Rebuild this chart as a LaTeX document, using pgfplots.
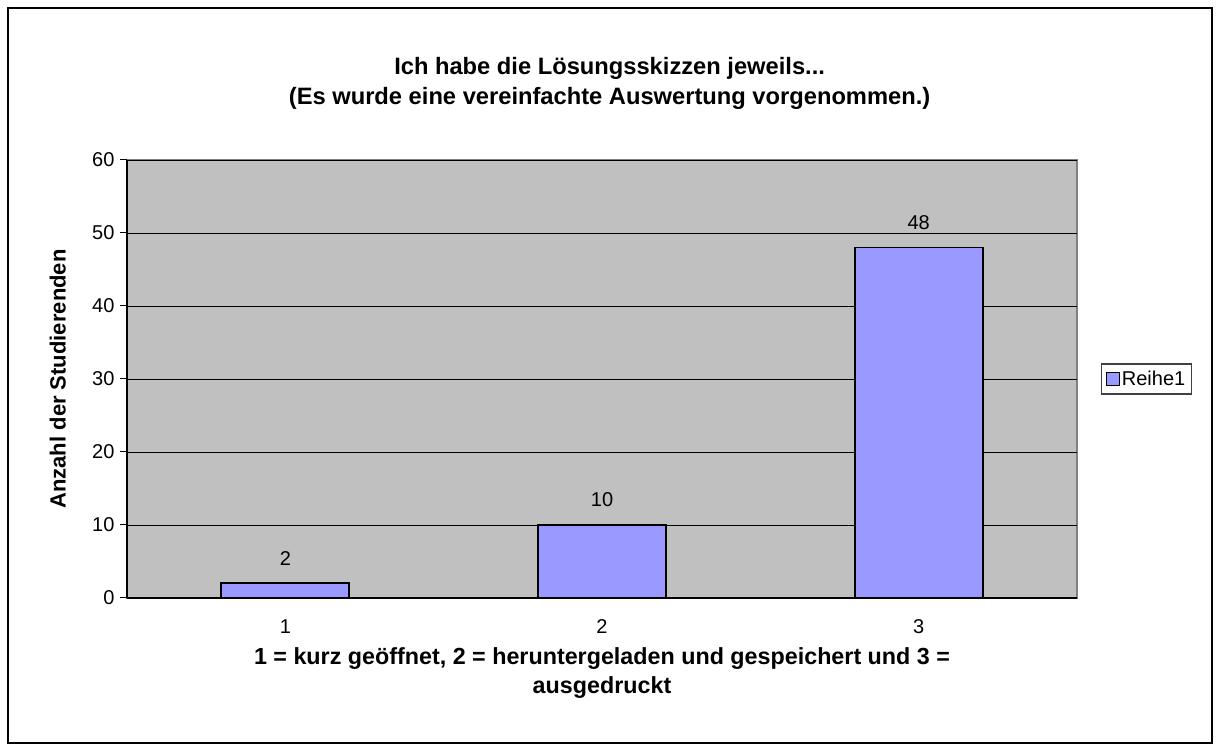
\documentclass[border=0pt]{standalone}
\usepackage{fontspec}
\setmainfont{Liberation Sans}
\usepackage{pgfplots}
\pgfplotsset{compat=1.18}
\definecolor{plotgray}{HTML}{C0C0C0}
\definecolor{framegray}{HTML}{808080}
\definecolor{barblue}{HTML}{9999FF}
\begin{document}
\begin{tikzpicture}[x=1pt,y=1pt]
\path[fill=white] (0,0) rectangle (1220,751);
\draw[black, line width=1.2pt] (8,8) rectangle (1212,743);
\begin{axis}[
  at={(127pt,153pt)}, anchor=south west,
  scale only axis, width=950pt, height=438pt,
  xmin=0.5, xmax=3.5, ymin=0, ymax=60,
  axis background/.style={fill=plotgray, draw=framegray, line width=2.2pt},
  axis x line*=bottom, axis y line*=left,
  axis line style={black, line width=1.2pt, -},
  xtick={1,2,3}, xticklabels={1,2,3},
  major x tick style={draw=none},
  extra x ticks={0.5,1.5,2.5,3.5}, extra x tick labels={},
  extra x tick style={major tick length=7pt, tick align=outside, tick style={draw=framegray, line width=1pt}},
  ytick={0,10,...,60},
  ymajorgrids, grid style={black, line width=0.9pt},
  major y tick style={black, line width=1pt},
  major tick length=7pt, tick align=outside,
  tick label style={font=\fontsize{20}{23}\selectfont},
  /pgf/number format/assume math mode=true,
  xticklabel style={yshift=-11pt},
  yticklabel style={xshift=-2pt},
  ylabel={Anzahl der Studierenden},
  ylabel style={at={(axis description cs:-0.073,0.5)}, anchor=center, font=\bfseries\fontsize{22}{26}\selectfont},
  xlabel={1 = kurz geöffnet, 2 = heruntergeladen und gespeichert und 3 =\\ausgedruckt},
  xlabel style={at={(axis description cs:0.5,-0.172)}, anchor=center, align=center, font=\bfseries\fontsize{23.3}{29}\selectfont},
  title={Ich habe die Lösungsskizzen jeweils...\\(Es wurde eine vereinfachte Auswertung vorgenommen.)},
  title style={at={(axis description cs:0.508,1.162)}, anchor=center, align=center, font=\bfseries\fontsize{23.7}{30}\selectfont},
  ybar, bar width=128pt,
  nodes near coords,
  nodes near coords style={font=\fontsize{20}{23}\selectfont, yshift=14pt},
  legend style={at={(axis description cs:1,0.5)}, anchor=west, xshift=24pt,
    draw=black!75, line width=1.2pt, font=\fontsize{20}{23}\selectfont,
    inner xsep=4pt, inner ysep=5pt},
  legend image code/.code={\draw[fill=barblue, draw=black, line width=1.3pt] (0pt,-6.5pt) rectangle (13pt,6.5pt);},
  clip=false,
]
\addplot[fill=barblue, draw=black, line width=1.8pt] coordinates {(1,2) (2,10) (3,48)};
\addlegendentry{Reihe1}
\end{axis}
\end{tikzpicture}
\end{document}
